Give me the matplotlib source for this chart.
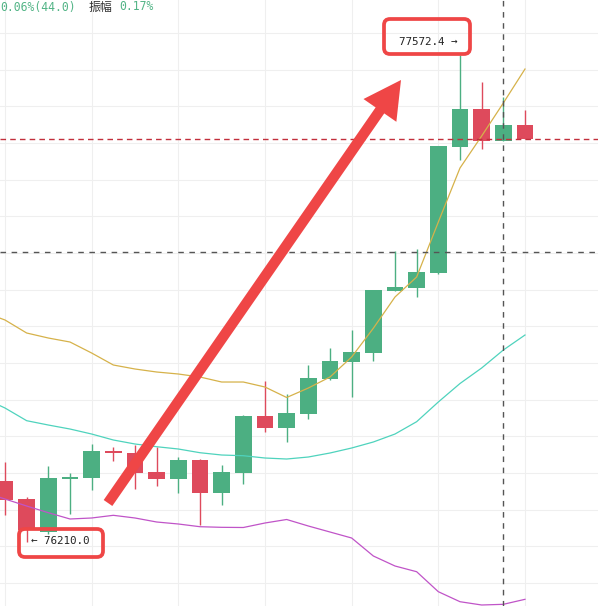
import matplotlib
matplotlib.use("Agg")
import matplotlib.pyplot as plt
import numpy as np
from matplotlib.patches import FancyArrow, FancyBboxPatch

# ---- data ----
candle_idx = list(range(25))
opens  = [76380.7, 76330.3, 76238.0, 76386.3, 76389.9, 76464.6, 76459.8, 76405.8, 76387.1, 76439.4,
          76347.9, 76403.9, 76562.5, 76529.8, 76568.9, 76666.0, 76714.4, 76739.6, 76913.0, 76921.4,
          76963.4, 77315.9, 77421.3, 77331.8, 77376.6]
highs  = [76433.8, 76335.9, 76422.6, 76403.0, 76484.2, 76476.6, 76481.4, 76475.8, 76447.8, 76441.0,
          76425.4, 76564.0, 76660.4, 76624.0, 76705.2, 76753.6, 76803.1, 76915.0, 77024.9, 77028.8,
          77317.8, 77572.4, 77497.7, 77454.9, 77418.5]
lows   = [76285.5, 76210.0, 76232.4, 76289.7, 76355.5, 76437.5, 76358.3, 76366.7, 76347.1, 76257.6,
          76313.5, 76372.3, 76518.6, 76490.6, 76553.3, 76663.0, 76614.8, 76717.2, 76913.0, 76896.2,
          76960.0, 77278.7, 77308.6, 77331.8, 77336.6]
closes = [76327.5, 76243.6, 76389.1, 76390.5, 76464.6, 76458.2, 76403.9, 76387.1, 76439.4, 76347.9,
          76405.8, 76562.5, 76529.8, 76570.1, 76668.0, 76716.4, 76741.5, 76915.0, 76922.5, 76965.3,
          77317.8, 77421.3, 77331.8, 77376.6, 77336.6]

line_idx = list(range(-1, 25))
line_yellow = [76853.4, 76831.1, 76794.7, 76780.7, 76769.5, 76738.7, 76705.2, 76694.0, 76685.6, 76680.0,
               76671.6, 76657.6, 76657.6, 76643.6, 76614.3, 76640.8, 76671.6, 76727.6, 76808.0, 76895.4,
               76951.4, 77105.2, 77256.3, 77345.8, 77438.1, 77533.2]
line_teal = [76612.9, 76584.9, 76549.4, 76537.3, 76526.1, 76512.1, 76495.4, 76484.2, 76476.6, 76470.2,
             76459.8, 76453.4, 76451.4, 76445.0, 76442.2, 76447.8, 76459.0, 76473.0, 76489.8, 76512.1,
             76546.6, 76601.7, 76653.4, 76696.8, 76747.1, 76789.1]
line_purple = [76349.9, 76330.3, 76310.7, 76292.0, 76274.4, 76277.2, 76284.7, 76277.2, 76266.0, 76260.4,
               76252.8, 76251.1, 76250.6, 76263.2, 76273.0, 76254.8, 76238.0, 76221.2, 76170.9, 76142.9,
               76126.9, 76071.0, 76043.0, 76033.8, 76035.7, 76049.7]

crosshair_idx = 23
crosshair_price = 77021.3
label_high = "77572.4 \u2192"
label_low = "\u2190 76210.0"
info_change = "0.06%(44.0)"
info_label = "振幅"
info_amp = "0.17%"

# ---- style ----
GREEN = "#4caf82"
RED = "#de4a5c"
ANN = "#ef4646"
W, H = 598, 606

fig = plt.figure(figsize=(W / 100, H / 100), dpi=100)
ax = fig.add_axes([0, 0, 1, 1])
ax.set_xlim(-0.2308, 27.37)
ax.set_ylim(76031.0, 77726.3)
ax.axis("off")

# grid
for gx in range(0, 25, 4):
    ax.axvline(gx, color="#efefef", lw=0.8, zorder=0)
for gy in 77633.9 - 102.6 * np.arange(0, 17):
    ax.axhline(gy, color="#efefef", lw=0.8, zorder=0)

# candles
for i, o, h, l, c in zip(candle_idx, opens, highs, lows, closes):
    col = GREEN if c >= o else RED
    ax.vlines(i, l, h, color=col, lw=1.0, zorder=2)
    bot = min(o, c)
    hgt = max(abs(c - o), 5.0)
    ax.bar(i, hgt, bottom=bot, width=0.77, color=col, lw=0, zorder=3)

# indicator lines
ax.plot(line_idx, line_yellow, color="#d6b24a", lw=0.9, zorder=4)
ax.plot(line_idx, line_teal, color="#4fd3bd", lw=0.9, zorder=4)
ax.plot(line_idx, line_purple, color="#c054c8", lw=0.9, zorder=4)

# dashed lines
ax.axhline(closes[-1], color="#c22f3c", lw=1.0, ls=(0, (4, 3)), zorder=5)
ax.axhline(crosshair_price, color="#555555", lw=1.0, ls=(0, (4, 4)), zorder=5)
ax.axvline(crosshair_idx, color="#555555", lw=1.0, ls=(0, (4, 4)), zorder=5)

# overlay for annotations (pixel coordinates)
ov = fig.add_axes([0, 0, 1, 1])
ov.set_xlim(0, W)
ov.set_ylim(H, 0)
ov.axis("off")
ov.patch.set_alpha(0)

ov.add_patch(FancyArrow(108, 503, 293, -423, width=10.5, head_width=40, head_length=37,
                        length_includes_head=True, color=ANN, lw=0, zorder=10))

ov.add_patch(FancyBboxPatch((384, 19), 86, 35, boxstyle="round,pad=0,rounding_size=6",
                            fill=False, ec=ANN, lw=2.7, zorder=10))
ov.add_patch(FancyBboxPatch((19, 529), 84, 28, boxstyle="round,pad=0,rounding_size=6",
                            fill=False, ec=ANN, lw=2.7, zorder=10))

mono = "DejaVu Sans Mono"
ov.text(399, 42, label_high, family=mono, fontsize=7.8, color="#222222", va="center", ha="left", zorder=11)
ov.text(31, 541, label_low, family=mono, fontsize=7.8, color="#222222", va="center", ha="left", zorder=11)

ov.text(0, 10.5, info_change, family=mono, fontsize=8.3, color="#52b486", va="baseline", ha="left")
ov.text(89, 10.5, info_label, family=["Noto Sans CJK SC", "DejaVu Sans"], fontsize=8.6, color="#333333",
        va="baseline", ha="left")
ov.text(119, 10.5, info_amp, family=mono, fontsize=8.3, color="#52b486", va="baseline", ha="left")

fig.savefig("out.png", dpi=100)
